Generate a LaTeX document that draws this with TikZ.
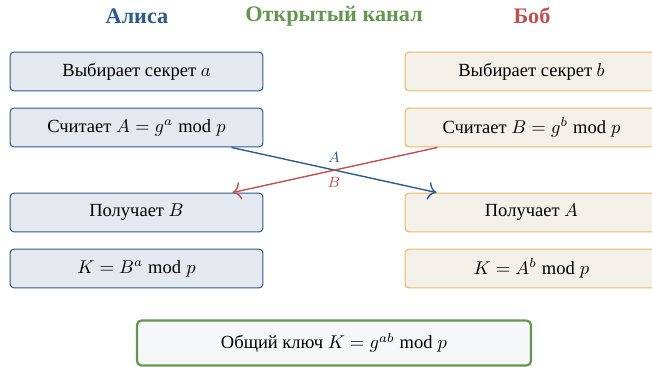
\documentclass[tikz,border=0pt]{standalone}
\usepackage{fontspec}
\setmainfont{Liberation Serif}
\usetikzlibrary{calc,arrows.meta}
\definecolor{aliceC}{RGB}{44,90,140}
\definecolor{aliceF}{RGB}{228,233,240}
\definecolor{bobC}{RGB}{190,80,80}
\definecolor{bobD}{RGB}{232,184,96}
\definecolor{bobF}{RGB}{243,240,233}
\definecolor{chanC}{RGB}{100,150,80}
\definecolor{keyF}{RGB}{246,247,248}
\begin{document}
\begin{tikzpicture}[x=0.54pt,y=-0.54pt,
  head/.style={font=\large\bfseries, inner sep=0pt},
  alicebox/.style={draw=aliceC, fill=aliceF, line width=0.55pt, rounded corners=2.2pt, minimum width=136.6pt, minimum height=21pt, inner sep=0pt},
  bobbox/.style={draw=bobD, fill=bobF, line width=0.55pt, rounded corners=2.2pt, minimum width=136.6pt, minimum height=21pt, inner sep=0pt},
  keybox/.style={draw=chanC, fill=keyF, line width=1.2pt, rounded corners=2.5pt, minimum width=212.8pt, minimum height=24.3pt, inner sep=0pt},
  msg/.style={line width=0.75pt, -{To[scale=1.4]}},
  lbl/.style={font=\footnotesize, inner sep=1.5pt}]
\useasboundingbox (0,0) rectangle (652,366);
\node[head, text=aliceC] (hA) at (137,16) {Алиса};
\node[head, text=chanC] (hC) at (334,16) {Открытый канал};
\node[head, text=bobC] (hB) at (532,16) {Боб};
\node[alicebox] (L1) at (136.5,71.5) {Выбирает секрет $a$};
\node[alicebox] (L2) at (136.5,127.5) {Считает $A = g^a \bmod p$};
\node[alicebox] (L3) at (136.5,212.5) {Получает $B$};
\node[alicebox] (L4) at (136.5,268.5) {$K = B^a \bmod p$};
\node[bobbox] (R1) at (531.5,71.5) {Выбирает секрет $b$};
\node[bobbox] (R2) at (531.5,127.5) {Считает $B = g^b \bmod p$};
\node[bobbox] (R3) at (531.5,212.5) {Получает $A$};
\node[bobbox] (R4) at (531.5,268.5) {$K = A^b \bmod p$};
\node[keybox] (K) at (334,343) {Общий ключ $K = g^{ab} \bmod p$};
\coordinate (aS) at ($(L2.south east)+(-32,0)$);
\coordinate (aE) at ($(R3.north west)+(32,0)$);
\coordinate (bS) at ($(R2.south west)+(33,0)$);
\coordinate (bE) at ($(L3.north east)+(-31,0)$);
\draw[msg, aliceC] (aS) -- (aE);
\draw[msg, bobC] (bS) -- (bE);
\node[lbl, text=aliceC, anchor=south] (lA) at ($(aS)!0.5!(aE)+(0,-4)$) {$A$};
\node[lbl, text=bobC, anchor=north] (lB) at ($(aS)!0.5!(aE)+(0,4)$) {$B$};
\end{tikzpicture}
\end{document}
